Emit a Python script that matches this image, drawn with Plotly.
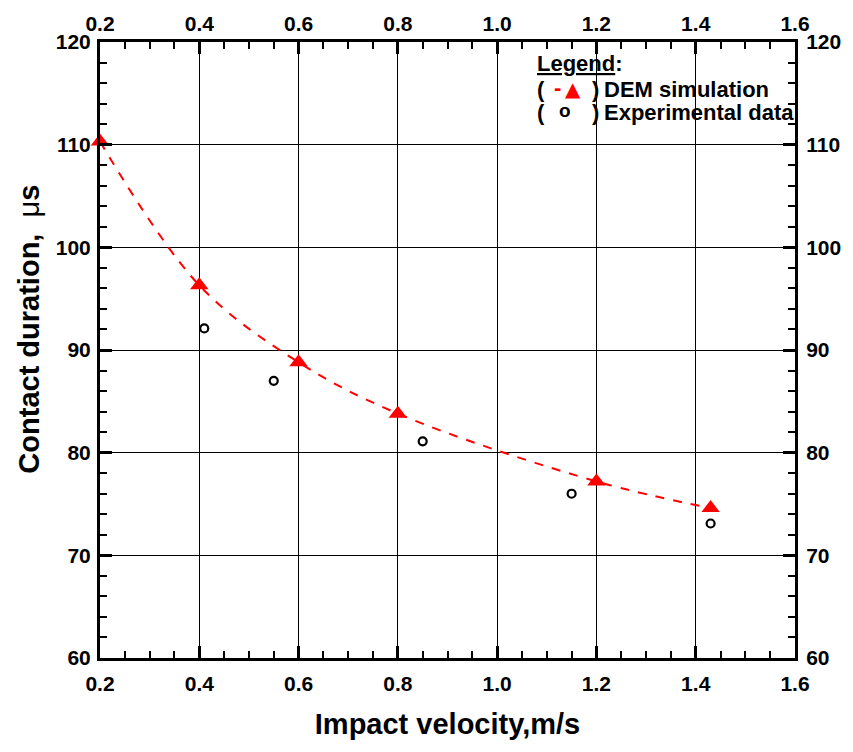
import plotly.graph_objects as go

# Data
dem_v = [0.2, 0.4, 0.6, 0.8, 1.2, 1.43]
dem_t = [110.3, 96.3, 88.8, 83.8, 77.2, 74.6]
exp_v = [0.41, 0.55, 0.85, 1.15, 1.43]
exp_t = [92.1, 87.0, 81.1, 76.0, 73.1]

x_ticks = [0.2, 0.4, 0.6, 0.8, 1.0, 1.2, 1.4, 1.6]
y_ticks = [60, 70, 80, 90, 100, 110, 120]

FONT = "Liberation Sans"
L, R, T, B = 100, 800, 38, 658


def px(xp):
    return (xp - L) / (R - L)


def py(yp):
    return (B - yp) / (B - T)


fig = go.Figure()
fig.add_trace(go.Scatter(
    x=dem_v, y=dem_t, mode="lines+markers", name="DEM simulation",
    line=dict(color="red", dash="dash", width=2, shape="spline"),
    marker=dict(symbol="triangle-up", size=16, color="red"),
    cliponaxis=False,
))
fig.add_trace(go.Scatter(
    x=exp_v, y=exp_t, mode="markers", name="Experimental data",
    marker=dict(symbol="circle-open", size=8, color="black", line=dict(width=2.2, color="black")),
    cliponaxis=False,
))
# invisible trace for top/right axes
fig.add_trace(go.Scatter(x=[x_ticks[0]], y=[y_ticks[0]], xaxis="x2", yaxis="y2",
                         mode="markers", marker=dict(opacity=0), showlegend=False, hoverinfo="skip"))

tickfont = dict(family=FONT, size=21, color="black", weight="bold")
common_x = dict(range=[0.2, 1.6], tickvals=x_ticks, ticktext=[f"{v:.1f}" for v in x_ticks],
                ticks="inside", ticklen=12, tickwidth=3, tickcolor="black",
                minor=dict(ticks="inside", dtick=0.05, ticklen=7, tickwidth=2, tickcolor="black", showgrid=False),
                showline=True, linewidth=3, linecolor="black", tickfont=tickfont, zeroline=False)
common_y = dict(range=[60, 120], tickvals=y_ticks,
                ticks="inside", ticklen=12, tickwidth=3, tickcolor="black",
                minor=dict(ticks="inside", dtick=2, ticklen=7, tickwidth=2, tickcolor="black", showgrid=False),
                showline=True, linewidth=3, linecolor="black", tickfont=tickfont, zeroline=False)

title_font = dict(family=FONT, size=29, color="black", weight="bold")

fig.update_layout(
    width=853, height=752,
    margin=dict(l=L, r=853 - R, t=T, b=752 - B),
    paper_bgcolor="white", plot_bgcolor="white",
    showlegend=False,
    xaxis=dict(**common_x, showgrid=True, gridcolor="black", gridwidth=1, ticklabelstandoff=5,
               title=dict(text="Impact velocity,m/s", font=title_font, standoff=20)),
    yaxis=dict(**common_y, showgrid=True, gridcolor="black", gridwidth=1, ticklabelstandoff=2),
    xaxis2=dict(**common_x, overlaying="x", side="top", anchor="y", showgrid=False),
    yaxis2=dict(**common_y, overlaying="y", side="right", anchor="x", showgrid=False, ticklabelstandoff=4),
)

# y axis title
fig.add_annotation(text="Contact duration,  <span style='font-weight:normal'>μ</span>s",
                   x=px(29), y=py(327), xref="paper", yref="paper", showarrow=False,
                   textangle=-90, xanchor="center", yanchor="middle", font=title_font)

# legend box (white, between gridlines and data)
fig.add_shape(type="rect", xref="paper", yref="paper", x0=px(538), x1=px(798), y0=py(151), y1=py(40),
              fillcolor="white", line=dict(width=0), layer="between")

lf = dict(family=FONT, size=22, color="black", weight="bold")


def ann(text, x, y, anchor="left", font=lf):
    fig.add_annotation(text=text, x=px(x), y=py(y), xref="paper", yref="paper", showarrow=False,
                       xanchor=anchor, yanchor="middle", font=font)


ann("<u>Legend</u>:", 538, 60)
ann("(", 538, 86)
ann("<span style='color:red'>-</span>", 561, 84, "center")
ann(")", 594, 86)
ann("DEM simulation", 606, 86)
ann("(", 538, 109)
ann(")", 594, 109)
ann("Experimental data", 606, 109)
# legend symbols
fig.add_annotation(text="▲", x=px(576), y=py(85), xref="paper", yref="paper", showarrow=False,
                   xanchor="center", yanchor="middle", font=dict(family="DejaVu Sans", size=20, color="red"))
fig.add_annotation(text="o", x=px(568), y=py(107), xref="paper", yref="paper", showarrow=False,
                   xanchor="center", yanchor="middle", font=dict(family=FONT, size=19, color="black", weight="bold"))

fig.write_html("out.html")
